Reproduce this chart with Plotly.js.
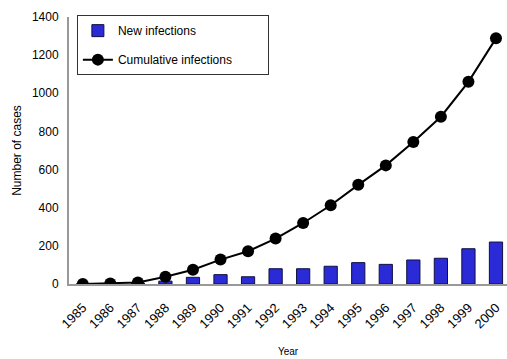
<!DOCTYPE html>
<html>
<head>
<meta charset="utf-8">
<script src="https://cdn.plot.ly/plotly-3.0.1.min.js"></script>
<style>html,body{margin:0;padding:0;background:#fff;}#chart{width:507px;height:359px;}</style>
</head>
<body>
<div id="chart"></div>
<script>
const years = ['1985','1986','1987','1988','1989','1990','1991','1992','1993','1994','1995','1996','1997','1998','1999','2000'];
const newInfections = [0, 3, 5, 15, 35, 49, 38, 80, 80, 93, 112, 103, 126, 135, 185, 220];
const cumulativeInfections = [0, 3, 8, 38, 75, 128, 172, 238, 320, 413, 520, 622, 745, 877, 1060, 1288];
const yTicks = [0, 200, 400, 600, 800, 1000, 1200, 1400];

const font = {family: 'Liberation Sans, Arial, sans-serif', size: 12, color: '#000'};
const pad = '\u00a0'.repeat(9);

const traces = [
  {
    type: 'bar', x: years, y: newInfections, name: 'New infections',
    marker: {color: '#2a2ad6', line: {color: '#101040', width: 1}},
    legendgroup: 'a'
  },
  {
    type: 'scatter', mode: 'lines+markers', x: years, y: cumulativeInfections,
    name: 'Cumulative infections' + pad,
    line: {color: '#000', width: 2},
    marker: {color: '#000', size: 12},
    legendgroup: 'b'
  }
];

const layout = {
  width: 507, height: 359,
  margin: {l: 69, r: 0, t: 17, b: 75},
  paper_bgcolor: '#fff', plot_bgcolor: '#fff',
  font: font,
  showlegend: true,
  bargap: 0.52,
  xaxis: {
    type: 'category', range: [-0.5, 15.4],
    tickangle: -45, tickfont: {size: 13},
    showline: true, linecolor: '#999', linewidth: 2,
    showgrid: false, zeroline: false,
    ticks: 'outside', ticklen: 9, tickcolor: 'rgba(0,0,0,0)',
    title: {text: 'Year', font: {size: 10}, standoff: 18}
  },
  yaxis: {
    range: [0, 1400], tickvals: yTicks, ticktext: yTicks.map(String),
    showline: true, linecolor: '#999', linewidth: 2,
    showgrid: false, zeroline: false, ticks: '',
    tickfont: {size: 12}, ticklabelstandoff: 6,
    title: {text: 'Number of cases', font: {size: 12}, standoff: 8}
  },
  legend: {
    x: 0.018, y: 1.007, xanchor: 'left', yanchor: 'top',
    bgcolor: '#fff', bordercolor: '#333', borderwidth: 1,
    font: {size: 12}, traceorder: 'grouped', tracegroupgap: 10
  }
};

Plotly.newPlot('chart', traces, layout, {displayModeBar: false, staticPlot: true});
</script>
</body>
</html>
